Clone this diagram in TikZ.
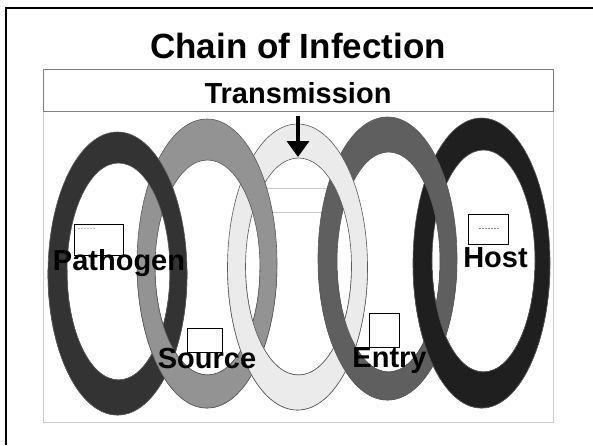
\documentclass[tikz,border=0pt]{standalone}
\usepackage{fontspec}
\setmainfont{Liberation Sans}
\usetikzlibrary{arrows.meta}
\definecolor{cPath}{HTML}{333333}
\definecolor{cSrc}{HTML}{939393}
\definecolor{cTrans}{HTML}{EBEBEB}
\definecolor{cEntry}{HTML}{5F5F5F}
\definecolor{cHost}{HTML}{1F1F1F}
\def\ringP{(117.5,273.5) ellipse [x radius=69.5pt, y radius=141.5pt] (118.5,271.5) ellipse [x radius=51.5pt, y radius=108.5pt]}
\def\ringS{(207,263.5) ellipse [x radius=70pt, y radius=144.5pt] (207.5,267.5) ellipse [x radius=52.5pt, y radius=107.5pt]}
\def\ringT{(297.5,267) ellipse [x radius=70pt, y radius=143pt] (298.5,266.5) ellipse [x radius=53pt, y radius=108.5pt]}
\def\ringE{(387.5,258.5) ellipse [x radius=69.5pt, y radius=141.5pt] (388.5,262) ellipse [x radius=51.5pt, y radius=110pt]}
\def\ringH{(481.5,263) ellipse [x radius=68.5pt, y radius=145pt] (483.5,261) ellipse [x radius=51.5pt, y radius=111pt]}
\tikzset{
  ring/.style={even odd rule, draw=black!65, line width=0.6pt},
  lab/.style={font=\bfseries\fontsize{29}{30}\selectfont, text=black, inner sep=0pt, anchor=base},
  emptybox/.style={draw=black, line width=0.8pt, fill=white, inner sep=0pt},
  faint/.style={draw=black!22, line width=0.7pt},
  tiny/.style={draw=black!45, line width=0.5pt, dash pattern=on 2pt off 1pt}
}
\begin{document}
\begin{tikzpicture}[x=1pt,y=-1pt]
\useasboundingbox[fill=white] (0,0) rectangle (593,445);
% frame (top and left edges)
\coordinate (fTR) at (593,8);
\coordinate (fTL) at (6,8);
\coordinate (fBL) at (6,445);
\draw[line width=2.5pt] (fBL) -- (fTL) -- (fTR);
% picture panel and transmission box
\node[draw=black!20, line width=0.8pt, minimum width=510pt, minimum height=311pt, inner sep=0pt] (panel) at (298,266.5) {};
\node[draw=black!50, line width=0.8pt, fill=white, minimum width=510pt, minimum height=42pt, inner sep=0pt] (tbox) at (298,90) {};
% faint background lines
\coordinate (fa1) at (255,188); \coordinate (fb1) at (340,188);
\coordinate (fa2) at (255,212); \coordinate (fb2) at (340,212);
\draw[faint] (fa1) -- (fb1);
\draw[faint] (fa2) -- (fb2);
% rings: left over right everywhere first
\path[ring, fill=cHost] \ringH;
\path[ring, fill=cEntry] \ringE;
\path[ring, fill=cTrans] \ringT;
\path[ring, fill=cSrc] \ringS;
\path[ring, fill=cPath] \ringP;
% bottom halves: right over left
\begin{scope}
\clip (0,270) rectangle (593,445);
\path[ring, fill=cPath] \ringP;
\path[ring, fill=cSrc] \ringS;
\path[ring, fill=cTrans] \ringT;
\path[ring, fill=cEntry] \ringE;
\path[ring, fill=cHost] \ringH;
\end{scope}
% arrow
\coordinate (arrtop) at (298,116);
\coordinate (arrtip) at (298,157);
\draw[line width=3.6pt, -{Triangle[width=22pt,length=16pt]}] (arrtop) -- (arrtip);
% empty boxes
\node[emptybox, minimum width=49pt, minimum height=31pt] (pbox) at (98.5,239.5) {};
\node[emptybox, minimum width=35pt, minimum height=24pt] (sbox) at (204.5,340) {};
\node[emptybox, minimum width=30pt, minimum height=34pt] (ebox) at (384,330) {};
\node[emptybox, minimum width=40pt, minimum height=30pt] (hbox) at (488,229) {};
\coordinate (hl1) at (479,228); \coordinate (hl2) at (499,228);
\draw[tiny] (hl1) -- (hl2);
\coordinate (pl1) at (78,228); \coordinate (pl2) at (96,228);
\draw[tiny, draw=black!25] (pl1) -- (pl2);
% texts
\node[font=\bfseries\fontsize{35}{36}\selectfont, inner sep=0pt, anchor=base] (title) at (298,58) {Chain of Infection};
\node[lab] (trans) at (298,103) {Transmission};
\node[lab] (pathogen) at (119,270) {Pathogen};
\node[lab] (source) at (207,368) {Source};
\node[lab] (entry) at (389.5,367) {Entry};
\node[lab] (host) at (495.5,267) {Host};
\end{tikzpicture}
\end{document}
